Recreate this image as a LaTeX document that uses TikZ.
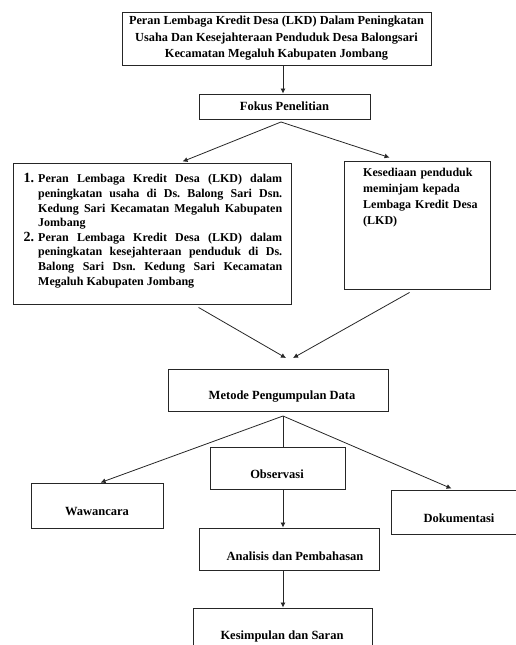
\documentclass[tikz,border=0pt]{standalone}
\usepackage{fontspec}
\setmainfont{Liberation Serif}
\frenchspacing
\usetikzlibrary{arrows.meta,calc}
\begin{document}
\begin{tikzpicture}[x=1pt,y=-1pt,
  box/.style={draw=black!85,line width=0.9pt,rectangle,inner sep=0pt},
  lbl/.style={font=\bfseries\fontsize{12.5}{14}\selectfont,inner sep=0pt},
  conn/.style={draw=black!85,line width=0.8pt},
  arr/.style={conn,-{Latex[length=5pt,width=5pt]}}]
\useasboundingbox (0,0) rectangle (516,645);
% boxes
\node[box,minimum width=309pt,minimum height=53pt,align=center,font=\bfseries\fontsize{12.3}{16.5}\selectfont] (top) at (276.5,38.5)
  {Peran Lembaga Kredit Desa (LKD) Dalam Peningkatan\\Usaha Dan Kesejahteraan Penduduk Desa Balongsari\\Kecamatan Megaluh Kabupaten Jombang};
\node[box,minimum width=171pt,minimum height=25pt,lbl] (fokus) at (284.5,106.5) {Fokus Penelitian};
\node[box,minimum width=278pt,minimum height=141pt] (left) at (152,233.5) {};
\node[lbl,anchor=north west,text width=262pt,align=justify,font=\bfseries\fontsize{12}{14.6}\selectfont] (lefttxt) at (20,168)
{\frenchspacing\begin{list}{\fontsize{14}{15}\selectfont\arabic{enumi}.}{\usecounter{enumi}\setlength\leftmargin{18pt}\setlength\labelsep{4pt}\setlength\labelwidth{14pt}\setlength\itemsep{0pt}\setlength\topsep{0pt}\setlength\parsep{0pt}\setlength\partopsep{0pt}}
\item Peran Lembaga Kredit Desa (LKD) dalam\linebreak peningkatan usaha di Ds. Balong Sari Dsn.\linebreak Kedung Sari Kecamatan Megaluh Kabupaten\linebreak Jombang
\item Peran Lembaga Kredit Desa (LKD) dalam\linebreak peningkatan kesejahteraan penduduk di Ds.\linebreak Balong Sari Dsn. Kedung Sari Kecamatan\linebreak Megaluh Kabupaten Jombang
\end{list}};
\node[box,minimum width=146pt,minimum height=128pt] (right) at (417,225) {};
\node[lbl,anchor=north west,text width=125pt,align=left,font=\bfseries\fontsize{12}{16}\selectfont] (righttxt) at (363,168)
  {Kesediaan penduduk\\meminjam kepada\\Lembaga Kredit Desa\\(LKD)};
\node[box,minimum width=220pt,minimum height=42pt] (metode) at (278,390) {};
\node[lbl] (metodetxt) at (282,397) {Metode Pengumpulan Data};
\node[box,minimum width=135pt,minimum height=42pt] (obs) at (277.5,468) {};
\node[lbl] (obstxt) at (277,474) {Observasi};
\node[box,minimum width=132pt,minimum height=45pt] (waw) at (97,505.5) {};
\node[lbl] (wawtxt) at (97,511) {Wawancara};
\node[box,minimum width=140pt,minimum height=44pt] (dok) at (461,512) {};
\node[lbl] (doktxt) at (459,518) {Dokumentasi};
\node[box,minimum width=180pt,minimum height=42pt] (ana) at (289,549) {};
\node[lbl] (anatxt) at (295,556) {Analisis dan Pembahasan};
\node[box,minimum width=179pt,minimum height=50pt] (kes) at (282.5,633) {};
\node[lbl] (kestxt) at (282,636) {Kesimpulan dan Saran};
% connector points
\coordinate (fk) at (281,122);
\coordinate (lt) at ($(left.north west)+(170,-1)$);
\coordinate (rt) at ($(right.north west)+(46,-3)$);
\coordinate (lb) at ($(left.south west)+(186,3)$);
\coordinate (rb) at ($(right.south west)+(66,3)$);
\coordinate (m1) at (286,358);
\coordinate (m2) at (293,358);
\coordinate (mb) at (283,416);
\coordinate (wt) at ($(waw.north west)+(70,0)$);
\coordinate (dt) at ($(dok.north west)+(61,-1)$);
% connectors
\draw[arr] (top.south -| 283,0) -- (fokus.north -| 283,0);
\draw[arr] (fk) -- (lt);
\draw[arr] (fk) -- (rt);
\draw[arr] (lb) -- (m1);
\draw[arr] (rb) -- (m2);
\draw[arr] (mb) -- (wt);
\draw[conn] (mb) -- (obs.north -| mb);
\draw[arr] (mb) -- (dt);
\draw[arr] (obs.south -| mb) -- (ana.north -| mb);
\draw[arr] (ana.south -| mb) -- (kes.north -| mb);
\end{tikzpicture}
\end{document}
